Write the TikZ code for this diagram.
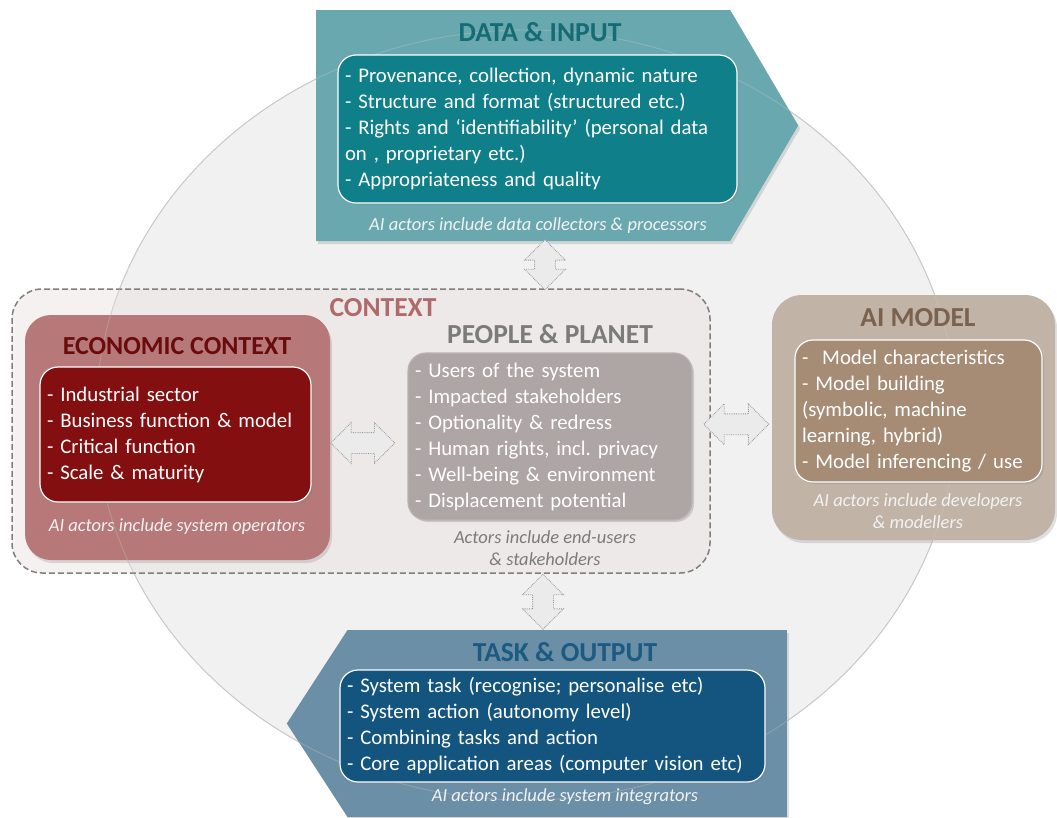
\documentclass[tikz,border=0pt]{standalone}
\usepackage{fontspec}
\setmainfont{Carlito}
\usetikzlibrary{calc, shapes.arrows, shapes.symbols, shadows}
\frenchspacing

\definecolor{ellfill}{HTML}{F1F1F1}
\definecolor{ellline}{HTML}{C8C8C8}
\definecolor{datafill}{HTML}{6AA8B0}
\definecolor{datadark}{HTML}{0F808A}
\definecolor{datatext}{HTML}{156C75}
\definecolor{ecofill}{HTML}{B67878}
\definecolor{ecodark}{HTML}{840F10}
\definecolor{ecotext}{HTML}{6A0C0E}
\definecolor{ctxfill}{HTML}{EDE3E3}
\definecolor{ctxline}{HTML}{7F7F7F}
\definecolor{ctxtext}{HTML}{B06A6A}
\definecolor{pplfill}{HTML}{AEA5A5}
\definecolor{ppltext}{HTML}{7B7B7B}
\definecolor{aifill}{HTML}{C1B4A7}
\definecolor{aidark}{HTML}{A68B75}
\definecolor{aitext}{HTML}{7A624F}
\definecolor{taskfill}{HTML}{6B8FA6}
\definecolor{taskdark}{HTML}{145580}
\definecolor{tasktext}{HTML}{1D5A82}
\definecolor{arrfill}{HTML}{EBEBEB}
\definecolor{arrline}{HTML}{9A9A9A}
\definecolor{notewhite}{HTML}{F2F2F2}

\begin{document}
\begin{tikzpicture}[
		x=1pt, y=-1pt,
		font=\fontsize{20.8}{26}\selectfont,
		outer/.style={inner sep=0pt, drop shadow={opacity=.25, shadow xshift=2pt, shadow yshift=-3pt}},
		inbox/.style={draw=white, line width=1.2pt, rounded corners=18pt, text=white, align=left, inner xsep=7pt, inner ysep=0pt, drop shadow={opacity=.3, shadow xshift=2pt, shadow yshift=-2pt}},
		heading/.style={font=\fontsize{27.5}{30}\selectfont\bfseries},
		note/.style={font=\fontsize{18.5}{22}\selectfont\itshape, align=center},
		dblarr/.style={double arrow, double arrow head extend=10pt, inner xsep=0pt, inner ysep=10pt, minimum width=40pt, draw=arrline, densely dotted, line width=.8pt, fill=arrfill}
		]
		
		\useasboundingbox (0,0) rectangle (1057,817);
		
		\fill[ellfill] (526,415) ellipse [x radius=430pt, y radius=385pt];
		\draw[ellline, line width=.9pt] (526,415) ellipse [x radius=430pt, y radius=385pt];
		
		\node[outer, signal, signal to=east, signal pointer angle=119, fill=datafill, minimum width=482pt, minimum height=231pt, anchor=west] (data) at (316,125.5) {};
		\node[outer, signal, signal to=west, signal pointer angle=114, fill=taskfill, minimum width=500pt, minimum height=187pt, anchor=east] (task) at (787,723.5) {};
		
		\node[draw=ctxline, line width=1.5pt, dash pattern=on 6pt off 3pt, rounded corners=30pt, fill=ctxfill, fill opacity=.5, minimum width=698pt, minimum height=284pt, inner sep=0pt] (ctx) at (361,431) {};
		\node[outer, fill=ecofill, rounded corners=26pt, minimum width=305pt, minimum height=245pt] (eco) at (177.5,437.5) {};
		\node[outer, fill=aifill, rounded corners=30pt, minimum width=283pt, minimum height=245pt] (aimodel) at (913.5,417.5) {};
		
		\draw[ellline, line width=.9pt, opacity=.35] (526,415) ellipse [x radius=430pt, y radius=385pt];
		
		\node[inbox, fill=datadark, text width=385pt, minimum height=148pt] (datain) at (537.5,129) {- Provenance, collection, dynamic nature\\- Structure and format (structured etc.)\\- Rights and ‘identifiability’ (personal data\\on , proprietary etc.)\\- Appropriateness and quality};
		\node[inbox, fill=ecodark, text width=257pt, minimum height=135pt] (ecoin) at (175.5,434.5) {- Industrial sector\\- Business function \& model\\- Critical function\\- Scale \& maturity};
		\node[inbox, draw=pplfill!85!white, fill=pplfill, text width=270pt, minimum height=167pt] (pplin) at (550,436.5) {- Users of the system\\- Impacted stakeholders\\- Optionality \& redress\\- Human rights, incl. privacy\\- Well-being \& environment\\- Displacement potential};
		\node[inbox, fill=aidark, text width=233pt, minimum height=142pt] (aiin) at (918.5,411) {-\ \ Model characteristics\\- Model building\\(symbolic, machine\\learning, hybrid)\\- Model inferencing / use};
		\node[inbox, fill=taskdark, text width=411pt, minimum height=112pt] (taskin) at (552.5,726) {- System task (recognise; personalise etc)\\- System action (autonomy level)\\- Combining tasks and action\\- Core application areas (computer vision etc)};
		
		\node[heading, text=datatext] (datatitle) at (540,32) {DATA \& INPUT};
		\node[heading, text=ctxtext] (ctxtitle) at (383,308) {CONTEXT};
		\node[heading, text=ecotext, font=\fontsize{26}{30}\selectfont\bfseries] (ecotitle) at (177,346) {ECONOMIC CONTEXT};
		\node[heading, text=ppltext] (ppltitle) at (550,334) {PEOPLE \& PLANET};
		\node[heading, text=aitext] (aititle) at (918,318) {AI MODEL};
		\node[heading, text=tasktext] (tasktitle) at (565,652) {TASK \& OUTPUT};
		
		\node[note, text=notewhite] (datanote) at (538,226) {AI actors include data collectors \& processors};
		\node[note, text=notewhite] (econote) at (177,527) {AI actors include system operators};
		\node[note, text=ppltext] (pplnote) at (545,548) {Actors include end-users\\\& stakeholders};
		\node[note, text=notewhite] (ainote) at (918,511) {AI actors include developers\\\& modellers};
		\node[note, text=notewhite] (tasknote) at (565,797) {AI actors include system integrators};
		
		\node[dblarr, rotate=90, minimum height=50pt] (arrdata) at ($(data.south -| pplin)!0.5!(ctx.north -| pplin)+(-5,0)$) {};
		\node[dblarr, rotate=90, minimum height=55pt] (arrtask) at ($(ctx.south -| pplin)!0.5!(task.north -| pplin)+(-7,0)$) {};
		\node[dblarr, minimum height=64pt] (arreco) at ($(eco.east)!0.5!(pplin.west)+(-6,6)$) {};
		\node[dblarr, minimum height=65pt] (arrai) at ($(ctx.east)!0.5!(aimodel.west)+(-5,0)$) {};
		
	\end{tikzpicture}
\end{document}
